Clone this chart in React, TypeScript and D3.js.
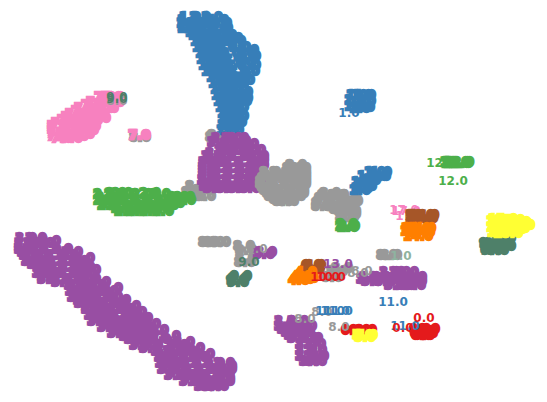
import React, { useEffect, useRef } from "react";
import * as d3 from "d3";

type Pt = [number, number];

const red = "#e41a1c";
const blue = "#377eb8";
const green = "#4daf4a";
const purple = "#984ea3";
const orange = "#ff7f00";
const yellow = "#ffff33";
const brown = "#a65628";
const pink = "#f781bf";
const grey = "#999999";
const teal = "#4e8069";

// embedding positions, one list per cluster
const greyTop: Pt[] = [[216,137],[218,135],[196,186],[192,192],[203,190],[195,196],[205,196],[140,137]];
const blueMain: Pt[] = [
  [190,17],[200,17],[212,17],[187,23],[197,23],[209,23],[221,23],[188,28],[195,28],[205,28],[218,28],[222,28],
  [199,35],[210,35],[222,35],[226,35],[201,41],[212,41],[224,41],[235,41],[203,47],[214,47],[226,47],[240,47],
  [206,53],[218,53],[230,53],[245,53],[207,59],[220,59],[233,59],[248,59],[209,65],[222,65],[235,65],[250,65],
  [212,71],[224,71],[238,71],[249,71],[217,77],[228,77],[240,77],[219,83],[230,83],[238,83],[221,89],[232,89],
  [238,89],[222,95],[233,95],[240,95],[224,101],[236,101],[241,101],[226,107],[238,107],[228,113],[234,113],
  [229,119],[233,119],[228,125],[233,125],[227,130],[233,130],
  [188,20],[188,26],[196,32],[205,38],[208,44],[209,50],[212,56],[214,62],[216,68],[222,74],[224,80],[226,86],
  [228,92],[228,98],[230,104],[232,110],[231,116],[230,122],[218,20],[232,38],[248,50],[250,56],[240,74],
  [244,62],[244,80],[242,92],[242,98],[238,116],[236,122],
];
const purpleMid: Pt[] = [
  [222,138],[232,138],[238,138],[232,144],[240,144],[248,144],[225,150],[237,150],[248,150],[255,150],
  [212,156],[225,156],[238,156],[250,156],[258,156],[209,162],[220,162],[232,162],[245,162],[257,162],
  [209,168],[221,168],[233,168],[245,168],[257,168],[209,174],[221,174],[233,174],[245,174],[255,174],
  [208,180],[220,180],[232,180],[245,180],[253,180],[210,186],[222,186],[234,186],[246,186],[252,186],
  [209,165],[209,171],[209,177],[210,183],[216,153],[228,147],[218,142],[258,160],[258,165],[256,171],
  [256,177],[255,183],[240,141],[214,159],[214,188],[226,188],[238,188],[250,188],
];
const greyRight: Pt[] = [
  [293,168],[300,168],[270,172],[280,172],[292,172],[300,172],[268,178],[280,178],[292,178],[300,178],
  [266,184],[278,184],[290,184],[300,184],[270,190],[282,190],[294,190],[275,196],[287,196],[295,196],[283,201],[288,201],
  [328,195],[338,195],[350,195],[324,201],[335,201],[347,201],[352,201],[322,206],[334,206],[346,206],[345,211],[350,211],[346,217],[348,217],
  [266,181],[268,187],[272,175],[273,193],[280,199],[296,165],[300,175],[300,181],[298,190],[298,193],
  [322,203],[325,198],[330,193],[350,198],[340,209],[345,206],[350,214],
];
const greenSmall: Pt[] = [[346,226],[348,227],[347,224],[349,226]];
const blueRight: Pt[] = [[362,182],[368,176],[375,172],[381,172],[370,180],[378,176],[362,188],[366,186],[380,176],[360,190]];
const blueUpper: Pt[] = [[357,95],[362,95],[365,95],[355,100],[360,102],[365,101],[355,106],[360,108],[364,107]];
const green12: Pt[] = [[455,162],[457,162],[458,163],[459,162],[456,163]];
const pinkMain: Pt[] = [
  [105,97],[112,97],[114,97],[97,102],[108,102],[114,102],[85,108],[95,108],[105,108],[108,108],[76,114],[87,114],[98,114],
  [68,120],[80,120],[92,120],[58,126],[68,126],[80,126],[90,126],[58,131],[70,131],[82,131],[58,136],[68,136],[78,136],[139,135],[140,135],
  [58,129],[58,133],[62,138],[72,138],[84,134],[88,130],[100,118],[72,117],[82,111],[92,105],[104,104],[110,100],[62,123],[86,122],[94,112],
];
const teal9: Pt[] = [
  [237,280],[239,278],[241,276],[238,282],[491,246],[495,243],[498,247],[503,243],[505,246],[499,246],[491,248],
  [503,239],[505,238],[492,250],[498,250],[490,243],
];
const greenLeft: Pt[] = [
  [104,194],[115,194],[128,194],[142,194],[160,194],[104,200],[116,200],[128,200],[140,200],[152,200],[165,200],[176,200],[185,200],
  [108,205],[120,205],[132,205],[144,205],[156,205],[168,205],[125,211],[137,211],[150,211],[163,211],
  [106,197],[105,199],[110,203],[122,208],[135,208],[147,208],[160,208],[174,203],[184,197],[122,193],[150,193],[178,197],[116,193],
];
const purpleDiag: Pt[] = [
  [26,238],[36,238],[25,243],[34,243],[44,243],[25,249],[37,249],[50,249],[62,249],[30,255],[42,255],[55,255],[68,255],
  [32,261],[44,261],[56,261],[68,261],[78,261],[44,267],[56,267],[68,267],[80,267],[84,267],[43,273],[55,273],[67,273],[79,273],[86,273],
  [48,279],[60,279],[72,279],[83,279],[90,279],[75,285],[85,285],[96,285],[76,291],[88,291],[100,291],[108,291],
  [78,297],[90,297],[102,297],[112,297],[85,303],[97,303],[109,303],[118,303],[92,309],[104,309],[116,309],[125,309],
  [95,315],[107,315],[119,315],[131,315],[98,321],[110,321],[122,321],[134,321],[140,321],[108,327],[120,327],[132,327],[143,327],
  [118,333],[130,333],[142,333],[148,333],[135,339],[147,339],[160,339],[140,345],[152,345],[165,345],[178,345],
  [162,351],[174,351],[186,351],[165,357],[177,357],[189,357],[198,357],[166,363],[178,363],[190,363],[202,363],[214,363],[224,363],
  [168,369],[180,369],[192,369],[204,369],[216,369],[226,369],[175,375],[187,375],[199,375],[211,375],[223,375],
  [190,381],[202,381],[214,381],[224,381],[205,386],[212,386],[218,386],
  [25,246],[28,252],[33,258],[38,264],[46,270],[48,276],[62,282],[78,288],[82,294],[84,300],[92,306],[100,312],
  [104,318],[114,324],[124,330],[130,336],[142,342],[150,348],[166,354],[168,360],[170,366],[178,372],[192,378],[208,384],
  [50,241],[72,252],[84,258],[90,270],[100,282],[112,288],[120,300],[130,306],[136,312],[142,318],[150,324],[158,330],
  [170,336],[184,342],[194,348],[204,354],[226,366],[224,372],[224,378],[215,384],
];
const greyMid: Pt[] = [[209,242],[214,242],[220,242],[244,246],[246,250],[245,262],[246,258],[387,255],[391,255],[337,271],[342,268],[332,277]];
const purpleSmall: Pt[] = [
  [264,254],[266,252],[390,272],[400,272],[408,272],[370,277],[380,277],[392,277],[404,277],[416,277],[367,279],[372,281],[385,281],[398,281],[410,281],[416,281],[395,285],[405,285],[415,285],
  [285,321],[298,321],[285,326],[297,326],[306,326],[292,332],[304,332],[298,338],[308,338],[312,338],[306,344],[315,344],[306,350],[316,350],[306,356],[316,356],[318,356],[310,361],[316,361],
  [288,329],[295,335],[302,329],
];
const orange14: Pt[] = [[415,231],[418,236],[420,232],[421,228],[416,228]];
const orange4: Pt[] = [[299,280],[302,276],[306,272],[308,278],[304,279],[301,278]];
const brown16: Pt[] = [[420,218],[422,218],[421,217],[423,218],[420,215],[424,215]];
const brown6: Pt[] = [[312,265],[315,265],[310,270],[314,268]];
const yellow15: Pt[] = [[503,224],[507,222],[510,226],[518,224],[505,230],[512,229],[520,225],[501,221],[501,227],[502,232],[510,220],[515,228],[516,222],[503,219],[508,233]];
const yellow5: Pt[] = [[363,335],[367,335],[365,337]];
const redBlob: Pt[] = [[352,330],[360,330],[366,330],[421,333],[424,335],[427,333],[425,331],[422,335],[420,329],[429,329]];

// single labels that stay readable in the reference
const clean9: Pt[] = [[117,97],[117,99],[249,262]];
const clean8: Pt[] = [[117,101],[362,271],[358,273],[305,319],[339,327],[322,312],[257,249]];
const clean1: Pt[] = [[349,113]];
const clean11: Pt[] = [[393,302],[330,311],[335,311],[338,311],[405,326]];
const clean0: Pt[] = [[403,328],[424,318]];
const clean10: Pt[] = [[331,277],[325,277]];
const clean12: Pt[] = [[441,163],[453,181]];
const clean13: Pt[] = [[338,264]];
const clean17: Pt[] = [[404,210],[406,211],[410,216]];
const clean1pale: Pt[] = [[401,256]];

const under: [Pt[], string, string][] = [[clean17, "17.0", pink]];

const filled: [Pt[], string, string][] = [
  [greyTop, "8.0", grey],
  [blueMain, "1.0", blue],
  [purpleMid, "3.0", purple],
  [greyRight, "8.0", grey],
  [greenSmall, "2.0", green],
  [blueRight, "1.0", blue],
  [blueUpper, "1.0", blue],
  [green12, "12.0", green],
  [pinkMain, "7.0", pink],
  [greenLeft, "2.0", green],
  [purpleDiag, "3.0", purple],
  [greyMid, "8.0", grey],
  [purpleSmall, "3.0", purple],
  [teal9, "9.0", teal],
  [brown16, "16.0", brown],
  [brown6, "6.0", brown],
  [orange14, "14.0", orange],
  [orange4, "4.0", orange],
  [yellow15, "15.0", yellow],
  [redBlob, "0.0", red],
  [yellow5, "5.0", yellow],
];

const labelled: [Pt[], string, string][] = [
  [clean8, "8.0", grey],
  [clean9, "9.0", teal],
  [clean1, "1.0", blue],
  [clean11, "11.0", blue],
  [clean0, "0.0", red],
  [clean10, "10.0", red],
  [clean12, "12.0", green],
  [clean13, "13.0", purple],
  [clean1pale, "1.0", "#8fb3a0"],
];

export default function App() {
  const ref = useRef<SVGSVGElement>(null);

  useEffect(() => {
    const width = 547;
    const height = 402;
    const svg = d3.select(ref.current).attr("width", width).attr("height", height);
    svg.selectAll("*").remove();

    const xScale = d3.scaleLinear().domain([0, 547]).range([0, width]);
    const yScale = d3.scaleLinear().domain([0, 402]).range([0, height]);

    const draw = (points: Pt[], label: string, color: string, strokeWidth: number) => {
      svg.append("g")
        .selectAll("text")
        .data(points)
        .enter()
        .append("text")
        .attr("x", d => xScale(d[0]))
        .attr("y", d => yScale(d[1]))
        .attr("dy", "0.36em")
        .attr("text-anchor", "middle")
        .attr("fill", color)
        .attr("stroke", color)
        .attr("stroke-width", strokeWidth)
        .style("font-family", "DejaVu Sans")
        .style("font-weight", "bold")
        .style("font-size", "12px")
        .text(label);
    };

    // the clusters are so dense in the reference that their glyphs close up
    under.forEach(([points, label, color]) => draw(points, label, color, 0));
    filled.forEach(([points, label, color]) => draw(points, label, color, 2.4));
    labelled.forEach(([points, label, color]) => draw(points, label, color, 0));
  }, []);

  return <svg ref={ref} style={{ position: "absolute", left: 0, top: 0, background: "#fff" }} />;
}
